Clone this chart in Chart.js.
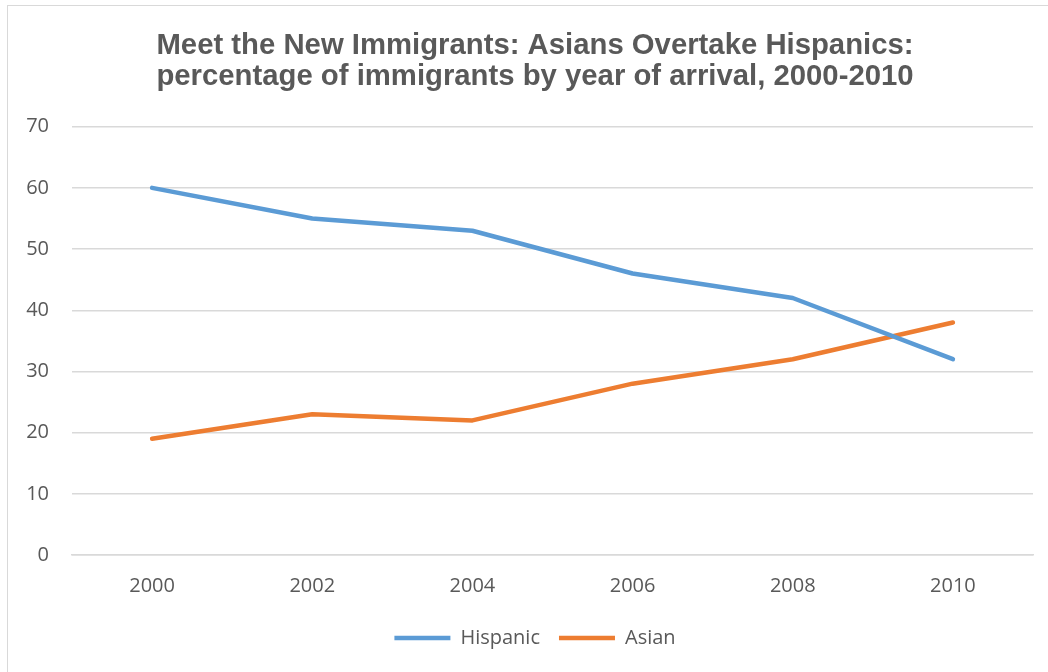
<!DOCTYPE html>
<html lang="en">
<head>
  <meta charset="UTF-8">
  <title>Meet the New Immigrants</title>
  <script src="https://cdn.jsdelivr.net/npm/chart.js"></script>
  <style>
    html, body { margin: 0; padding: 0; background: #fff; overflow: hidden; }
    #wrap { position: relative; width: 1048px; height: 672px; overflow: hidden; }
    #frame {
      position: absolute; left: 7px; top: 5px; width: 1100px; height: 700px;
      border: 1.5px solid #d9d9d9; pointer-events: none;
    }
  </style>
</head>
<body>
<div id="wrap">
  <canvas id="chart" width="1070" height="672"></canvas>
  <div id="frame"></div>
</div>

<script>
  // data
  var years = ['2000', '2002', '2004', '2006', '2008', '2010'];
  var hispanic = [60, 55, 53, 46, 42, 32];
  var asian = [19, 23, 22, 28, 32, 38];
  var yTicks = [0, 10, 20, 30, 40, 50, 60, 70];

  var textGray = '#595959';
  var gridGray = '#d9d9d9';
  var tickFont = { family: '"Open Sans", sans-serif', size: 20 };

  var ctx = document.getElementById('chart').getContext('2d');
  var chart = new Chart(ctx, {
    type: 'line',
    data: {
      labels: years,
      datasets: [{
        label: 'Hispanic',
        data: hispanic,
        borderColor: '#5B9BD5',
        backgroundColor: '#5B9BD5',
        borderWidth: 4.5,
        borderCapStyle: 'round',
        borderJoinStyle: 'round',
        pointRadius: 0,
        pointStyle: 'line',
        tension: 0
      }, {
        label: 'Asian',
        data: asian,
        borderColor: '#ED7D31',
        backgroundColor: '#ED7D31',
        borderWidth: 4.5,
        borderCapStyle: 'round',
        borderJoinStyle: 'round',
        pointRadius: 0,
        pointStyle: 'line',
        tension: 0
      }]
    },
    options: {
      responsive: false,
      animation: false,
      layout: { padding: { left: 0, right: 0, top: 20, bottom: 14 } },
      plugins: {
        title: {
          display: true,
          text: ['Meet the New Immigrants: Asians Overtake Hispanics:',
                 'percentage of immigrants by year of arrival, 2000-2010'],
          color: textGray,
          font: { family: '"Liberation Sans", Arial, sans-serif', size: 29.3, weight: 'bold', lineHeight: 1.07 },
          padding: { top: 10, bottom: 34 }
        },
        legend: {
          position: 'bottom',
          labels: {
            usePointStyle: true,
            pointStyleWidth: 56,
            color: textGray,
            font: tickFont,
            padding: 19
          }
        },
        tooltip: { enabled: false }
      },
      scales: {
        x: {
          offset: true,
          grid: { display: false },
          border: { display: true, color: gridGray, width: 1.5 },
          ticks: { color: textGray, font: tickFont, padding: 11 }
        },
        y: {
          min: 0,
          max: 70,
          afterBuildTicks: function (scale) {
            scale.ticks = yTicks.map(function (v) { return { value: v }; });
          },
          afterFit: function (scale) { scale.width = 72; },
          grid: { color: gridGray, lineWidth: 1.5, drawTicks: false },
          border: { display: false },
          ticks: { color: textGray, font: tickFont, padding: 23 }
        },
        // empty right-hand axis, only there to keep the plot's right edge where the reference has it
        yRight: {
          position: 'right',
          display: true,
          afterFit: function (scale) { scale.width = 37; },
          grid: { display: false, drawTicks: false },
          border: { display: false },
          ticks: { display: false }
        }
      }
    }
  });
</script>
</body>
</html>
